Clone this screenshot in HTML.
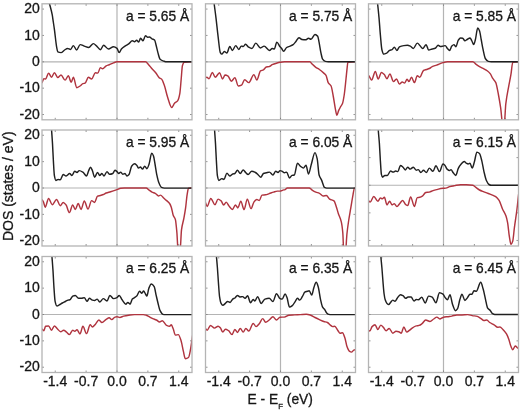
<!DOCTYPE html><html><head><meta charset="utf-8"><style>html,body{margin:0;padding:0;background:#fff;overflow:hidden}svg{display:block}</style></head><body>
<svg width="520" height="411" viewBox="0 0 520 411" font-family="'Liberation Sans', Arial, Helvetica, sans-serif" fill="#161616" stroke="#161616" stroke-width="0.3">
<defs><clipPath id="c1"><rect x="42" y="3.8" width="150" height="116"/></clipPath><clipPath id="c2"><rect x="205.5" y="3.8" width="150" height="116"/></clipPath><clipPath id="c3"><rect x="368.5" y="3.8" width="150" height="116"/></clipPath><clipPath id="c4"><rect x="42" y="130" width="150" height="116"/></clipPath><clipPath id="c5"><rect x="205.5" y="130" width="150" height="116"/></clipPath><clipPath id="c6"><rect x="368.5" y="130" width="150" height="116"/></clipPath><clipPath id="c7"><rect x="42" y="256.5" width="150" height="116"/></clipPath><clipPath id="c8"><rect x="205.5" y="256.5" width="150" height="116"/></clipPath><clipPath id="c9"><rect x="368.5" y="256.5" width="150" height="116"/></clipPath></defs>
<path d="M42,61.8H192 M117,3.8V119.8" stroke="#b4b4b4" stroke-width="1.2" fill="none"/><path d="M55.24,119.8v-2M55.24,3.8v2M86.12,119.8v-2M86.12,3.8v2M117,119.8v-2M117,3.8v2M147.88,119.8v-2M147.88,3.8v2M178.76,119.8v-2M178.76,3.8v2M42,114.53h2M192,114.53h-2M42,88.16h2M192,88.16h-2M42,61.8h2M192,61.8h-2M42,35.44h2M192,35.44h-2M42,9.07h2M192,9.07h-2" stroke="#777" stroke-width="0.8" fill="none"/><g clip-path="url(#c1)" fill="none" stroke-width="1.45" stroke-linejoin="round"><path d="M41,83.5 C41.33,83.2 41.67,83.01 42,82.6 C42.6,81.87 43.2,78.7 43.8,78.7 C44.4,78.7 45,79 45.6,79 C46.6,79 47.6,73.1 48.6,73.1 C49.57,73.1 50.53,77.2 51.5,77.2 C52.47,77.2 53.43,72.8 54.4,72.8 C55.53,72.8 56.67,77.5 57.8,77.5 C58.87,77.5 59.93,75 61,75 C62.37,75 63.73,80.1 65.1,80.1 C66.17,80.1 67.23,75.8 68.3,75.8 C69.27,75.8 70.23,82.2 71.2,82.2 C71.93,82.2 72.67,77.2 73.4,77.2 C74.5,77.2 75.6,87.7 76.7,87.7 C77.8,87.7 78.9,86.7 80,86 C80.97,85.38 81.93,83.94 82.9,83.6 C83.63,83.35 84.37,83.38 85.1,83.1 C86.2,82.68 87.3,77.2 88.4,77.2 C89.47,77.2 90.53,79 91.6,79 C92.83,79 94.07,72.8 95.3,72.8 C96.13,72.8 96.97,73.1 97.8,73.1 C98.67,73.1 99.53,67.6 100.4,67.6 C101.13,67.6 101.87,68.8 102.6,68.8 C103.8,68.8 105,66.4 106.2,65.8 C107.2,65.3 108.2,65.09 109.2,64.7 C110.63,64.14 112.07,63.41 113.5,62.9 C114.67,62.48 115.83,61.8 117,61.8 C126.5,61.8 136,61.8 145.5,61.8 C146.47,61.8 147.43,63.41 148.4,64.4 C149.6,65.63 150.8,67.42 152,68.8 C153.23,70.22 154.47,71.3 155.7,72.8 C156.9,74.26 158.1,76.89 159.3,77.8 C160.03,78.35 160.77,78.37 161.5,79 C162.47,79.83 163.43,82.81 164.4,85.5 C165.4,88.28 166.4,93.47 167.4,96.5 C168.83,100.84 170.27,107.4 171.7,107.4 C172.7,107.4 173.7,104.09 174.7,103.1 C175.67,102.14 176.63,102.13 177.6,100.9 C178.33,99.97 179.07,97.44 179.8,93.6 C180.27,91.16 180.73,84 181.2,79 C181.6,74.71 182,67.22 182.4,65.8 C183,63.67 183.6,62.27 184.2,62.2 C187.13,61.87 190.07,61.93 193,61.8" stroke="#b0343f"/><path d="M47.3,-5 C47.97,-2.33 48.63,0.32 49.3,3 C50.27,6.88 51.23,9.66 52.2,14.7 C52.57,16.61 52.93,19.57 53.3,22 C53.67,24.43 54.03,26.67 54.4,29.3 C55.13,34.55 55.87,42.85 56.6,46.8 C57,48.95 57.4,51.71 57.8,51.9 C58.87,52.41 59.93,52.6 61,52.6 C62.2,52.6 63.4,50.72 64.6,50 C65.57,49.42 66.53,48.5 67.5,48.5 C68.5,48.5 69.5,49.4 70.5,49.4 C71.47,49.4 72.43,45.6 73.4,45.6 C74.47,45.6 75.53,50 76.6,50 C77.8,50 79,44.6 80.2,44.6 C81.57,44.6 82.93,45.63 84.3,46.1 C85.77,46.6 87.23,47.5 88.7,47.5 C90.27,47.5 91.83,43.6 93.4,43.6 C94.5,43.6 95.6,45.17 96.7,46.1 C97.93,47.15 99.17,49.7 100.4,49.7 C101.47,49.7 102.53,45.3 103.6,45.3 C105.2,45.3 106.8,49 108.4,49 C110.1,49 111.8,46.8 113.5,46.8 C114.67,46.8 115.83,47.44 117,48.3 C117.73,48.84 118.47,52.6 119.2,52.6 C119.93,52.6 120.67,49.81 121.4,49 C122.6,47.67 123.8,46.92 125,46.1 C126.23,45.26 127.47,44.78 128.7,43.9 C129.9,43.04 131.1,40.7 132.3,40.7 C133.03,40.7 133.77,41.7 134.5,41.7 C135.23,41.7 135.97,40.2 136.7,40.2 C137.33,40.2 137.97,42.1 138.6,42.1 C139.27,42.1 139.93,38.3 140.6,38.3 C141.4,38.3 142.2,40.7 143,40.7 C143.83,40.7 144.67,35.8 145.5,35.8 C146.23,35.8 146.97,37.3 147.7,37.3 C148.27,37.3 148.83,36.9 149.4,36.9 C150.27,36.9 151.13,38.27 152,38.8 C152.9,39.35 153.8,39.31 154.7,40.2 C155.17,40.66 155.63,43.51 156.1,45.3 C156.7,47.6 157.3,50.52 157.9,52.6 C158.63,55.14 159.37,58.5 160.1,59.2 C161.3,60.34 162.5,60.71 163.7,61.1 C164.67,61.42 165.63,61.8 166.6,61.8 C175.4,61.8 184.2,61.8 193,61.8" stroke="#202020"/></g><rect x="42" y="3.8" width="150" height="116" stroke="#b4b4b4" stroke-width="1.3" fill="none"/><text transform="translate(189.2,20.7) scale(1,1.1)" font-size="13.8" text-anchor="end">a = 5.65 Å</text>
<text transform="translate(39.8,13.27) scale(1,1.05)" font-size="14" text-anchor="end">20</text>
<text transform="translate(39.8,39.64) scale(1,1.05)" font-size="14" text-anchor="end">10</text>
<text transform="translate(39.8,66) scale(1,1.05)" font-size="14" text-anchor="end">0</text>
<text transform="translate(39.8,92.36) scale(1,1.05)" font-size="14" text-anchor="end">-10</text>
<text transform="translate(39.8,118.73) scale(1,1.05)" font-size="14" text-anchor="end">-20</text>
<path d="M205.5,61.8H355.5 M280.5,3.8V119.8" stroke="#b4b4b4" stroke-width="1.2" fill="none"/><path d="M218.74,119.8v-2M218.74,3.8v2M249.62,119.8v-2M249.62,3.8v2M280.5,119.8v-2M280.5,3.8v2M311.38,119.8v-2M311.38,3.8v2M342.26,119.8v-2M342.26,3.8v2M205.5,114.53h2M355.5,114.53h-2M205.5,88.16h2M355.5,88.16h-2M205.5,61.8h2M355.5,61.8h-2M205.5,35.44h2M355.5,35.44h-2M205.5,9.07h2M355.5,9.07h-2" stroke="#777" stroke-width="0.8" fill="none"/><g clip-path="url(#c2)" fill="none" stroke-width="1.45" stroke-linejoin="round"><path d="M204,78.5 C204.33,78.4 204.67,78.33 205,78.2 C205.6,77.97 206.2,77.2 206.8,77.2 C207.57,77.2 208.33,78.7 209.1,78.7 C210.17,78.7 211.23,72.4 212.3,72.4 C213.27,72.4 214.23,77.2 215.2,77.2 C216.67,77.2 218.13,72.8 219.6,72.8 C220.57,72.8 221.53,79 222.5,79 C223.37,79 224.23,74.9 225.1,74.9 C226.1,74.9 227.1,75.46 228.1,76.1 C229.17,76.78 230.23,81.2 231.3,81.2 C232.5,81.2 233.7,77.8 234.9,77.8 C236.03,77.8 237.17,86 238.3,86 C239.37,86 240.43,85.61 241.5,85.1 C242.57,84.59 243.63,79.7 244.7,79.7 C246.07,79.7 247.43,82.6 248.8,82.6 C250.5,82.6 252.2,74.6 253.9,74.6 C254.87,74.6 255.83,80.1 256.8,80.1 C258.03,80.1 259.27,71.62 260.5,70.9 C261.47,70.33 262.43,70.4 263.4,69.9 C264.37,69.4 265.33,67.23 266.3,67 C267.27,66.77 268.23,66.82 269.2,66.6 C270.2,66.37 271.2,65.16 272.2,64.7 C273.63,64.04 275.07,63.62 276.5,63.2 C277.67,62.86 278.83,62.49 280,62.3 C281.47,62.07 282.93,61.8 284.4,61.8 C292.9,61.8 301.4,61.8 309.9,61.8 C310.63,61.8 311.37,63.4 312.1,64.1 C313.33,65.28 314.57,66.42 315.8,67.3 C317,68.16 318.2,68.66 319.4,69.5 C320.87,70.52 322.33,71.77 323.8,73.1 C324.53,73.77 325.27,74.17 326,75.3 C326.73,76.43 327.47,81.3 328.2,82.6 C329.17,84.31 330.13,84.13 331.1,86 C331.83,87.42 332.57,92.61 333.3,96.5 C334.03,100.39 334.77,106.14 335.5,109.6 C335.97,111.8 336.43,115.2 336.9,115.2 C337.5,115.2 338.1,111.75 338.7,110.4 C339.33,108.97 339.97,107.84 340.6,106.7 C341.23,105.56 341.87,105.11 342.5,103.5 C343.07,102.06 343.63,98.62 344.2,95 C344.8,91.17 345.4,84.6 346,79 C346.4,75.27 346.8,70.59 347.2,67.3 C347.43,65.38 347.67,62.23 347.9,62.2 C350.93,61.83 353.97,61.93 357,61.8" stroke="#b0343f"/><path d="M213,-5 C213.35,-2.33 213.7,0.32 214.05,3 C214.68,7.84 215.32,12.4 215.95,17.6 C216.67,23.48 217.38,30.88 218.1,36.6 C218.83,42.45 219.57,51.37 220.3,52.6 C220.8,53.44 221.3,54.1 221.8,54.1 C222.63,54.1 223.47,51.5 224.3,51.5 C225.17,51.5 226.03,52.9 226.9,52.9 C227.87,52.9 228.83,46.5 229.8,46.5 C230.67,46.5 231.53,50.4 232.4,50.4 C233.5,50.4 234.6,45.6 235.7,45.6 C236.77,45.6 237.83,49.4 238.9,49.4 C239.67,49.4 240.43,46.1 241.2,46.1 C241.87,46.1 242.53,46.5 243.2,46.5 C244,46.5 244.8,44.2 245.6,44.2 C246.57,44.2 247.53,46.54 248.5,47.1 C249.67,47.78 250.83,48.5 252,48.5 C253.27,48.5 254.53,43.1 255.8,43.1 C257.37,43.1 258.93,48 260.5,48 C261.7,48 262.9,46.1 264.1,46.1 C265.9,46.1 267.7,50.4 269.5,50.4 C270.4,50.4 271.3,48.5 272.2,48.5 C272.9,48.5 273.6,49 274.3,49 C275.13,49 275.97,42.1 276.8,42.1 C277.87,42.1 278.93,45.56 280,46.8 C280.5,47.38 281,47.73 281.5,48.3 C282.2,49.1 282.9,51.2 283.6,51.2 C284.6,51.2 285.6,48.1 286.6,47.5 C287.8,46.78 289,46.64 290.2,46.1 C291.17,45.67 292.13,45.29 293.1,44.6 C294.1,43.89 295.1,42.37 296.1,41.2 C297.07,40.07 298.03,37.7 299,37.7 C299.97,37.7 300.93,39.35 301.9,39.5 C303.1,39.68 304.3,39.8 305.5,39.8 C306.5,39.8 307.5,38.3 308.5,38.3 C309.33,38.3 310.17,39.2 311,39.2 C312.33,39.2 313.67,34.4 315,34.4 C315.9,34.4 316.8,35.12 317.7,36.3 C318.17,36.91 318.63,40.11 319.1,42.4 C319.7,45.34 320.3,49.84 320.9,52.6 C321.47,55.21 322.03,58.4 322.6,59.2 C323.5,60.48 324.4,61.19 325.3,61.4 C326.27,61.63 327.23,61.8 328.2,61.8 C337.8,61.8 347.4,61.8 357,61.8" stroke="#202020"/></g><rect x="205.5" y="3.8" width="150" height="116" stroke="#b4b4b4" stroke-width="1.3" fill="none"/><text transform="translate(352.3,20.7) scale(1,1.1)" font-size="13.8" text-anchor="end">a = 5.75 Å</text>
<path d="M368.5,61.8H518.5 M443.5,3.8V119.8" stroke="#b4b4b4" stroke-width="1.2" fill="none"/><path d="M381.74,119.8v-2M381.74,3.8v2M412.62,119.8v-2M412.62,3.8v2M443.5,119.8v-2M443.5,3.8v2M474.38,119.8v-2M474.38,3.8v2M505.26,119.8v-2M505.26,3.8v2M368.5,114.53h2M518.5,114.53h-2M368.5,88.16h2M518.5,88.16h-2M368.5,61.8h2M518.5,61.8h-2M368.5,35.44h2M518.5,35.44h-2M368.5,9.07h2M518.5,9.07h-2" stroke="#777" stroke-width="0.8" fill="none"/><g clip-path="url(#c3)" fill="none" stroke-width="1.45" stroke-linejoin="round"><path d="M367,73.5 C367.33,73.87 367.67,74.18 368,74.6 C368.5,75.22 369,76.04 369.5,76.8 C370.2,77.86 370.9,80.1 371.6,80.1 C372.83,80.1 374.07,71.4 375.3,71.4 C376.27,71.4 377.23,79 378.2,79 C379.27,79 380.33,72.4 381.4,72.4 C382.3,72.4 383.2,73.44 384.1,74.3 C385.07,75.23 386.03,78.7 387,78.7 C387.97,78.7 388.93,73.9 389.9,73.9 C391.1,73.9 392.3,81.6 393.5,81.6 C394.5,81.6 395.5,79 396.5,79 C397.47,79 398.43,84.1 399.4,84.1 C400.37,84.1 401.33,81.9 402.3,81.9 C403.03,81.9 403.77,83.1 404.5,83.1 C405.37,83.1 406.23,79.3 407.1,79.3 C407.7,79.3 408.3,81.6 408.9,81.6 C409.77,81.6 410.63,77.2 411.5,77.2 C412.47,77.2 413.43,82.6 414.4,82.6 C415.37,82.6 416.33,75.8 417.3,75.8 C418.13,75.8 418.97,77.2 419.8,77.2 C421.03,77.2 422.27,71.2 423.5,70.5 C424.47,69.95 425.43,69.83 426.4,69.5 C427.37,69.17 428.33,68.94 429.3,68.5 C430.27,68.06 431.23,67.04 432.2,66.6 C433.67,65.93 435.13,65.63 436.6,65.1 C438.73,64.33 440.87,63.12 443,62.6 C444.47,62.24 445.93,61.8 447.4,61.8 C455.9,61.8 464.4,61.8 472.9,61.8 C473.87,61.8 474.83,63.39 475.8,64.1 C477.03,65 478.27,65.89 479.5,66.6 C480.97,67.45 482.43,67.99 483.9,68.8 C485.1,69.46 486.3,70.08 487.5,71 C488.47,71.74 489.43,72.6 490.4,73.9 C491.13,74.88 491.87,77 492.6,78.2 C493.67,79.94 494.73,80.31 495.8,82.6 C496.7,84.53 497.6,90.3 498.5,95 C499.23,98.83 499.97,103.17 500.7,108.2 C501.4,113.01 502.1,125 502.8,125 C503.27,125 503.73,125 504.2,125 C504.73,125 505.27,108.39 505.8,103.8 C506.77,95.48 507.73,91.72 508.7,86.3 C509.43,82.19 510.17,79 510.9,74.7 C511.53,70.98 512.17,62.29 512.8,62.2 C515.2,61.87 517.6,61.93 520,61.8" stroke="#b0343f"/><path d="M376.5,-5 C376.83,-2.33 377.17,0.09 377.5,3 C378,7.36 378.5,12.12 379,17.6 C379.47,22.71 379.93,29.99 380.4,35.1 C380.9,40.58 381.4,47.78 381.9,49.7 C382.53,52.13 383.17,54.1 383.8,54.1 C384.6,54.1 385.4,53.74 386.2,53.4 C387.33,52.92 388.47,50.87 389.6,50.4 C390.43,50.05 391.27,50.08 392.1,49.7 C392.83,49.36 393.57,47.1 394.3,47.1 C395.17,47.1 396.03,50.4 396.9,50.4 C397.73,50.4 398.57,47.21 399.4,46.8 C400.87,46.08 402.33,45.78 403.8,45.6 C405,45.45 406.2,45.3 407.4,45.3 C408.37,45.3 409.33,45.7 410.3,46.1 C411.3,46.51 412.3,48.5 413.3,48.5 C414.63,48.5 415.97,43.1 417.3,43.1 C418.3,43.1 419.3,45.1 420.3,46.1 C421.1,46.9 421.9,48.5 422.7,48.5 C423.83,48.5 424.97,44.6 426.1,44.6 C426.93,44.6 427.77,50 428.6,50 C429.8,50 431,49.3 432.2,49 C433.2,48.75 434.2,48.68 435.2,48.3 C436.17,47.93 437.13,45.3 438.1,45.3 C438.83,45.3 439.57,46.5 440.3,46.5 C441.2,46.5 442.1,46.26 443,46.1 C443.73,45.97 444.47,45.6 445.2,45.6 C445.93,45.6 446.67,47.73 447.4,48.5 C448.13,49.27 448.87,50.4 449.6,50.4 C450.33,50.4 451.07,46.86 451.8,46.1 C452.5,45.37 453.2,44.6 453.9,44.6 C454.53,44.6 455.17,46.8 455.8,46.8 C456.63,46.8 457.47,41.4 458.3,40.2 C459.03,39.15 459.77,38 460.5,38 C461.23,38 461.97,38.12 462.7,38.3 C463.43,38.48 464.17,40.7 464.9,40.7 C465.63,40.7 466.37,39.89 467.1,39.5 C468.07,38.99 469.03,38 470,38 C470.63,38 471.27,39.88 471.9,41 C472.5,42.06 473.1,44.6 473.7,44.6 C474.27,44.6 474.83,41.59 475.4,39.5 C476.17,36.67 476.93,28.1 477.7,28.1 C478.3,28.1 478.9,29.34 479.5,30.7 C480.07,31.99 480.63,36.51 481.2,39.5 C481.83,42.84 482.47,46.79 483.1,49.7 C483.83,53.07 484.57,57.32 485.3,58.5 C486.3,60.11 487.3,61.16 488.3,61.4 C489.27,61.63 490.23,61.8 491.2,61.8 C500.8,61.8 510.4,61.8 520,61.8" stroke="#202020"/></g><rect x="368.5" y="3.8" width="150" height="116" stroke="#b4b4b4" stroke-width="1.3" fill="none"/><text transform="translate(516,20.7) scale(1,1.1)" font-size="13.8" text-anchor="end">a = 5.85 Å</text>
<path d="M42,188H192 M117,130V246" stroke="#b4b4b4" stroke-width="1.2" fill="none"/><path d="M55.24,246v-2M55.24,130v2M86.12,246v-2M86.12,130v2M117,246v-2M117,130v2M147.88,246v-2M147.88,130v2M178.76,246v-2M178.76,130v2M42,240.73h2M192,240.73h-2M42,214.36h2M192,214.36h-2M42,188h2M192,188h-2M42,161.64h2M192,161.64h-2M42,135.27h2M192,135.27h-2" stroke="#777" stroke-width="0.8" fill="none"/><g clip-path="url(#c4)" fill="none" stroke-width="1.45" stroke-linejoin="round"><path d="M41,199.5 C41.33,199.63 41.67,199.7 42,199.9 C42.5,200.2 43,201.12 43.5,202.1 C44.07,203.21 44.63,207.2 45.2,207.2 C46.33,207.2 47.47,198.4 48.6,198.4 C49.8,198.4 51,204.7 52.2,204.7 C53.67,204.7 55.13,199.4 56.6,199.4 C57.8,199.4 59,205.7 60.2,205.7 C61.2,205.7 62.2,202.4 63.2,202.4 C64.17,202.4 65.13,203.76 66.1,205 C67.2,206.41 68.3,212.6 69.4,212.6 C70.5,212.6 71.6,205 72.7,205 C73.57,205 74.43,209.4 75.3,209.4 C76.27,209.4 77.23,203.5 78.2,203.5 C79.17,203.5 80.13,209.4 81.1,209.4 C82.17,209.4 83.23,200.9 84.3,200.9 C85.53,200.9 86.77,209.1 88,209.1 C89.2,209.1 90.4,200.6 91.6,200.6 C92.6,200.6 93.6,202.4 94.6,202.4 C95.57,202.4 96.53,196.62 97.5,196.2 C98.47,195.78 99.43,195.77 100.4,195.5 C101.37,195.23 102.33,194.9 103.3,194.5 C104.27,194.1 105.23,193.35 106.2,193 C107.67,192.46 109.13,192.24 110.6,191.8 C112.73,191.16 114.87,190.38 117,189.6 C118.2,189.16 119.4,188.36 120.6,188.2 C121.83,188.03 123.07,187.9 124.3,187.9 C131.6,187.9 138.9,187.9 146.2,187.9 C147.17,187.9 148.13,189.4 149.1,190.1 C150.07,190.8 151.03,191.63 152,192.1 C153.07,192.62 154.13,192.77 155.2,193.3 C156.33,193.87 157.47,195.9 158.6,195.9 C159.23,195.9 159.87,195.1 160.5,195.1 C161.47,195.1 162.43,196.83 163.4,197.7 C164.47,198.66 165.53,199.6 166.6,200.6 C167.6,201.54 168.6,202.11 169.6,203.5 C170.17,204.29 170.73,205.58 171.3,207.2 C171.93,209.01 172.57,213.47 173.2,215.2 C173.93,217.21 174.67,217.11 175.4,219.6 C175.9,221.29 176.4,227.17 176.9,232.7 C177.33,237.5 177.77,252 178.2,252 C178.8,252 179.4,252 180,252 C180.5,252 181,233.62 181.5,229.8 C182.3,223.7 183.1,222.43 183.9,218.1 C184.47,215.03 185.03,211.95 185.6,207.9 C186.1,204.33 186.6,197.85 187.1,194.8 C187.57,191.95 188.03,188.25 188.5,188.2 C190,188.04 191.5,188.07 193,188" stroke="#b0343f"/><path d="M51,121 C51.17,123.67 51.33,126.44 51.5,129 C51.83,134.12 52.17,138.03 52.5,143.6 C52.8,148.62 53.1,156.08 53.4,161.1 C53.73,166.67 54.07,173.9 54.4,175.7 C54.9,178.4 55.4,180.4 55.9,180.4 C56.63,180.4 57.37,179.4 58.1,179.4 C58.8,179.4 59.5,179.8 60.2,179.8 C61.2,179.8 62.2,174.5 63.2,174.5 C64.17,174.5 65.13,176 66.1,176 C67.3,176 68.5,173.5 69.7,173.5 C70.43,173.5 71.17,175.4 71.9,175.4 C72.87,175.4 73.83,171.3 74.8,171.3 C75.53,171.3 76.27,172.5 77,172.5 C77.73,172.5 78.47,170.6 79.2,170.6 C80.43,170.6 81.67,171.37 82.9,172.1 C84.1,172.81 85.3,176 86.5,176 C87.23,176 87.97,172.16 88.7,170.6 C89.3,169.32 89.9,167.2 90.5,167.2 C91.13,167.2 91.77,169.19 92.4,170.6 C93.13,172.23 93.87,177.2 94.6,177.2 C95.57,177.2 96.53,172.5 97.5,172.5 C98.23,172.5 98.97,175.4 99.7,175.4 C100.43,175.4 101.17,173.5 101.9,173.5 C102.6,173.5 103.3,176 104,176 C105,176 106,171.6 107,171.6 C107.8,171.6 108.6,174.3 109.4,174.3 C110.53,174.3 111.67,173.99 112.8,173.5 C113.53,173.19 114.27,170.2 115,170.2 C115.67,170.2 116.33,171.04 117,171.6 C117.6,172.11 118.2,173.5 118.8,173.5 C119.4,173.5 120,172.1 120.6,172.1 C121.33,172.1 122.07,174.3 122.8,174.3 C123.53,174.3 124.27,173.5 125,173.5 C125.63,173.5 126.27,176 126.9,176 C127.6,176 128.3,175.3 129,174.5 C129.87,173.51 130.73,167.39 131.6,166.2 C132.57,164.87 133.53,163.7 134.5,163.7 C135.23,163.7 135.97,164.5 136.7,165.2 C137.33,165.8 137.97,168.1 138.6,168.1 C139.2,168.1 139.8,167 140.4,167 C141.1,167 141.8,169.1 142.5,169.1 C143.23,169.1 143.97,166.2 144.7,166.2 C145.43,166.2 146.17,168.7 146.9,168.7 C147.63,168.7 148.37,166.06 149.1,164 C149.97,161.57 150.83,153.1 151.7,153.1 C152.3,153.1 152.9,154.49 153.5,156 C154,157.26 154.5,161.17 155,164 C155.57,167.21 156.13,171.63 156.7,174.3 C157.47,177.91 158.23,181.15 159,183 C159.83,185.01 160.67,187.04 161.5,187.4 C162.47,187.82 163.43,188.1 164.4,188.1 C173.93,188.1 183.47,188.1 193,188.1" stroke="#202020"/></g><rect x="42" y="130" width="150" height="116" stroke="#b4b4b4" stroke-width="1.3" fill="none"/><text transform="translate(189.2,146.9) scale(1,1.1)" font-size="13.8" text-anchor="end">a = 5.95 Å</text>
<text transform="translate(39.8,139.47) scale(1,1.05)" font-size="14" text-anchor="end">20</text>
<text transform="translate(39.8,165.84) scale(1,1.05)" font-size="14" text-anchor="end">10</text>
<text transform="translate(39.8,192.2) scale(1,1.05)" font-size="14" text-anchor="end">0</text>
<text transform="translate(39.8,218.56) scale(1,1.05)" font-size="14" text-anchor="end">-10</text>
<text transform="translate(39.8,244.93) scale(1,1.05)" font-size="14" text-anchor="end">-20</text>
<path d="M205.5,188H355.5 M280.5,130V246" stroke="#b4b4b4" stroke-width="1.2" fill="none"/><path d="M218.74,246v-2M218.74,130v2M249.62,246v-2M249.62,130v2M280.5,246v-2M280.5,130v2M311.38,246v-2M311.38,130v2M342.26,246v-2M342.26,130v2M205.5,240.73h2M355.5,240.73h-2M205.5,214.36h2M355.5,214.36h-2M205.5,188h2M355.5,188h-2M205.5,161.64h2M355.5,161.64h-2M205.5,135.27h2M355.5,135.27h-2" stroke="#777" stroke-width="0.8" fill="none"/><g clip-path="url(#c5)" fill="none" stroke-width="1.45" stroke-linejoin="round"><path d="M204,200 C204.33,200.43 204.67,200.76 205,201.3 C205.73,202.48 206.47,206.4 207.2,206.4 C208.4,206.4 209.6,198.4 210.8,198.4 C212.17,198.4 213.53,204.7 214.9,204.7 C215.97,204.7 217.03,199.1 218.1,199.1 C219.1,199.1 220.1,200.02 221.1,200.9 C221.97,201.66 222.83,205 223.7,205 C224.53,205 225.37,202.1 226.2,202.1 C227.17,202.1 228.13,204.98 229.1,206.1 C230.2,207.38 231.3,209.4 232.4,209.4 C233.4,209.4 234.4,205 235.4,205 C236.2,205 237,207.9 237.8,207.9 C238.8,207.9 239.8,201.3 240.8,201.3 C241.9,201.3 243,209.6 244.1,209.6 C245.17,209.6 246.23,199.1 247.3,199.1 C248.53,199.1 249.77,208.6 251,208.6 C251.97,208.6 252.93,203.37 253.9,202.1 C254.87,200.83 255.83,199.4 256.8,199.4 C257.63,199.4 258.47,200.6 259.3,200.6 C260.17,200.6 261.03,195.24 261.9,195.1 C263.13,194.9 264.37,194.96 265.6,194.8 C266.8,194.64 268,194 269.2,193.6 C270.67,193.11 272.13,192.54 273.6,192.1 C274.83,191.73 276.07,191.1 277.3,191.1 C278.2,191.1 279.1,191.1 280,191.1 C280.97,191.1 281.93,190.36 282.9,190.1 C283.63,189.9 284.37,189.85 285.1,189.6 C285.83,189.35 286.57,188.01 287.3,188 C294.6,187.91 301.9,187.9 309.2,187.9 C310.17,187.9 311.13,189.49 312.1,190.1 C313.33,190.88 314.57,191.59 315.8,192.1 C317,192.59 318.2,192.76 319.4,193.3 C320.63,193.86 321.87,195.9 323.1,195.9 C324.2,195.9 325.3,195.5 326.4,195.5 C327.47,195.5 328.53,198.44 329.6,199.1 C331.07,200 332.53,199.78 334,200.9 C334.73,201.46 335.47,204.31 336.2,206.4 C336.93,208.49 337.67,211.47 338.4,213.7 C339.37,216.64 340.33,217.71 341.3,221.8 C341.8,223.92 342.3,227.26 342.8,232.7 C343.13,236.33 343.47,252 343.8,252 C344.37,252 344.93,252 345.5,252 C345.97,252 346.43,238.73 346.9,234.2 C347.47,228.69 348.03,224.84 348.6,221 C349.33,216.03 350.07,212.27 350.8,207.9 C351.53,203.53 352.27,198.48 353,194.8 C353.5,192.29 354,188.29 354.5,188.2 C355.33,188.06 356.17,188.07 357,188" stroke="#b0343f"/><path d="M214,121 C214.17,123.67 214.33,126.44 214.5,129 C214.83,134.12 215.17,138.03 215.5,143.6 C215.8,148.62 216.1,156.08 216.4,161.1 C216.73,166.67 217.07,173.9 217.4,175.7 C217.9,178.4 218.4,180.4 218.9,180.4 C219.87,180.4 220.83,178.6 221.8,178.6 C222.53,178.6 223.27,179.4 224,179.4 C224.97,179.4 225.93,173.1 226.9,173.1 C227.87,173.1 228.83,176 229.8,176 C230.77,176 231.73,174.32 232.7,174 C233.43,173.75 234.17,173.78 234.9,173.5 C235.73,173.18 236.57,170.2 237.4,170.2 C238.37,170.2 239.33,173.5 240.3,173.5 C241.27,173.5 242.23,169.9 243.2,169.9 C244.1,169.9 245,172 245.9,172.8 C246.63,173.46 247.37,174.5 248.1,174.5 C249.3,174.5 250.5,171.3 251.7,171.3 C252.93,171.3 254.17,171.91 255.4,172.5 C256.37,172.96 257.33,174.16 258.3,175 C259.13,175.73 259.97,177.2 260.8,177.2 C261.67,177.2 262.53,173.86 263.4,173.5 C264.37,173.1 265.33,173.02 266.3,172.8 C267.37,172.55 268.43,172.1 269.5,172.1 C270.63,172.1 271.77,175 272.9,175 C273.87,175 274.83,171.3 275.8,171.3 C276.53,171.3 277.27,172.5 278,172.5 C278.67,172.5 279.33,170.6 280,170.6 C280.73,170.6 281.47,170.98 282.2,171.3 C282.93,171.62 283.67,172.8 284.4,172.8 C285.13,172.8 285.87,172.1 286.6,172.1 C287.57,172.1 288.53,177.9 289.5,177.9 C290.33,177.9 291.17,175.64 292,175.4 C292.77,175.18 293.53,175.24 294.3,175 C295.37,174.66 296.43,163.3 297.5,163.3 C298.47,163.3 299.43,165.45 300.4,166.2 C301.4,166.98 302.4,168.1 303.4,168.1 C304.27,168.1 305.13,165.2 306,165.2 C306.83,165.2 307.67,174 308.5,174 C309.47,174 310.43,167.2 311.4,164 C312.6,160.03 313.8,152.6 315,152.6 C315.73,152.6 316.47,155.72 317.2,158.9 C317.83,161.64 318.47,172.86 319.1,175 C319.93,177.82 320.77,178.23 321.6,180.1 C322.57,182.27 323.53,186.87 324.5,187.4 C325.23,187.8 325.97,188.1 326.7,188.1 C336.8,188.1 346.9,188.1 357,188.1" stroke="#202020"/></g><rect x="205.5" y="130" width="150" height="116" stroke="#b4b4b4" stroke-width="1.3" fill="none"/><text transform="translate(352.3,146.9) scale(1,1.1)" font-size="13.8" text-anchor="end">a = 6.05 Å</text>
<path d="M368.5,185.24H518.5 M443.5,130V246" stroke="#b4b4b4" stroke-width="1.2" fill="none"/><path d="M381.74,246v-2M381.74,130v2M412.62,246v-2M412.62,130v2M443.5,246v-2M443.5,130v2M474.38,246v-2M474.38,130v2M505.26,246v-2M505.26,130v2M368.5,240.48h2M518.5,240.48h-2M368.5,212.86h2M518.5,212.86h-2M368.5,185.24h2M518.5,185.24h-2M368.5,157.62h2M518.5,157.62h-2M368.5,130h2M518.5,130h-2" stroke="#777" stroke-width="0.8" fill="none"/><g clip-path="url(#c6)" fill="none" stroke-width="1.45" stroke-linejoin="round"><path d="M367,199.5 C367.33,199.73 367.67,199.95 368,200.2 C368.73,200.75 369.47,202 370.2,202 C371.4,202 372.6,196.4 373.8,196.4 C375.17,196.4 376.53,201.2 377.9,201.2 C378.73,201.2 379.57,197.9 380.4,197.9 C381.03,197.9 381.67,198.8 382.3,198.8 C383,198.8 383.7,197.3 384.4,197.3 C385.27,197.3 386.13,204.9 387,204.9 C387.87,204.9 388.73,201.2 389.6,201.2 C390.43,201.2 391.27,204.9 392.1,204.9 C392.83,204.9 393.57,203.7 394.3,203.7 C395.17,203.7 396.03,206.6 396.9,206.6 C397.87,206.6 398.83,204.41 399.8,203.4 C400.77,202.39 401.73,200.5 402.7,200.5 C403.7,200.5 404.7,203.89 405.7,204.6 C406.37,205.07 407.03,205.6 407.7,205.6 C408.67,205.6 409.63,196.9 410.6,196.9 C411.87,196.9 413.13,206.4 414.4,206.4 C415.37,206.4 416.33,197.82 417.3,197.6 C418.13,197.41 418.97,197.46 419.8,197.3 C420.77,197.11 421.73,196.48 422.7,195.8 C423.7,195.1 424.7,192.71 425.7,192.5 C426.9,192.25 428.1,192.31 429.3,192.1 C430.53,191.89 431.77,191.01 433,190.6 C434.2,190.2 435.4,189.89 436.6,189.6 C438.73,189.09 440.87,188.51 443,188.3 C443.97,188.21 444.93,188.21 445.9,188.1 C447.13,187.96 448.37,186.93 449.6,186.6 C451.3,186.14 453,185.88 454.7,185.6 C456.63,185.29 458.57,184.8 460.5,184.8 C462.47,184.8 464.43,184.8 466.4,184.8 C468.57,184.8 470.73,184.92 472.9,185.2 C473.87,185.32 474.83,186.69 475.8,187.4 C477.03,188.3 478.27,189.36 479.5,190 C480.97,190.76 482.43,191.22 483.9,191.8 C485.37,192.38 486.83,192.94 488.3,193.5 C489.9,194.11 491.5,194.58 493.1,195.3 C493.97,195.69 494.83,196.08 495.7,196.7 C496.83,197.5 497.97,198.68 499.1,200.4 C500.23,202.12 501.37,206.47 502.5,209 C503.63,211.53 504.77,212.66 505.9,215.8 C506.47,217.37 507.03,219.58 507.6,222.6 C508.17,225.62 508.73,232.79 509.3,236.2 C509.87,239.61 510.43,244.4 511,244.4 C511.57,244.4 512.13,242.98 512.7,241.3 C513.27,239.62 513.83,232.01 514.4,227.7 C515.27,221.11 516.13,216.01 517,209 C517.57,204.42 518.13,197.9 518.7,193.6 C519.13,190.31 519.57,187.87 520,185" stroke="#b0343f"/><path d="M377.8,121 C377.93,123.67 378.07,126.9 378.2,129 C378.6,135.31 379,137.83 379.4,143.6 C379.73,148.41 380.07,156.08 380.4,161.1 C380.73,166.12 381.07,172.91 381.4,174.3 C381.8,175.97 382.2,177.2 382.6,177.2 C383.33,177.2 384.07,175.4 384.8,175.4 C385.63,175.4 386.47,175.4 387.3,175.4 C388.4,175.4 389.5,171 390.6,171 C391.43,171 392.27,172.1 393.1,172.1 C393.97,172.1 394.83,171 395.7,171 C396.43,171 397.17,171.6 397.9,171.6 C398.73,171.6 399.57,165.5 400.4,165.5 C401.27,165.5 402.13,166.45 403,167.2 C403.73,167.83 404.47,169.9 405.2,169.9 C406.03,169.9 406.87,167.2 407.7,167.2 C408.57,167.2 409.43,169.1 410.3,169.1 C411.3,169.1 412.3,167.2 413.3,167.2 C414.27,167.2 415.23,170.2 416.2,170.2 C416.93,170.2 417.67,169.6 418.4,169.6 C419.2,169.6 420,172.5 420.8,172.5 C421.7,172.5 422.6,170.2 423.5,170.2 C424.47,170.2 425.43,172.5 426.4,172.5 C427.37,172.5 428.33,168.1 429.3,168.1 C430.53,168.1 431.77,171.3 433,171.3 C433.97,171.3 434.93,165.8 435.9,165.8 C437.1,165.8 438.3,171.6 439.5,171.6 C440.67,171.6 441.83,164 443,164 C443.6,164 444.2,164.64 444.8,165.2 C445.57,165.92 446.33,168.42 447.1,169.1 C447.93,169.84 448.77,170.6 449.6,170.6 C450.07,170.6 450.53,169.6 451,169.6 C451.73,169.6 452.47,171.93 453.2,172.8 C454.07,173.83 454.93,175.4 455.8,175.4 C456.63,175.4 457.47,170.05 458.3,168.4 C459.27,166.48 460.23,165.07 461.2,164 C462.2,162.9 463.2,161.4 464.2,161.4 C464.93,161.4 465.67,162.9 466.4,163.3 C466.97,163.61 467.53,164 468.1,164 C468.73,164 469.37,163.3 470,163.3 C470.73,163.3 471.47,168.1 472.2,168.1 C472.93,168.1 473.67,164.21 474.4,161.8 C475.23,159.06 476.07,152.1 476.9,152.1 C477.77,152.1 478.63,152.69 479.5,153.5 C480.23,154.19 480.97,157.58 481.7,160.4 C482.43,163.22 483.17,168.2 483.9,171.3 C484.77,174.96 485.63,178.98 486.5,180.8 C487.33,182.55 488.17,184.02 489,184.5 C489.73,184.92 490.47,185.3 491.2,185.3 C500.8,185.3 510.4,185.3 520,185.3" stroke="#202020"/></g><rect x="368.5" y="130" width="150" height="116" stroke="#b4b4b4" stroke-width="1.3" fill="none"/><text transform="translate(516,146.9) scale(1,1.1)" font-size="13.8" text-anchor="end">a = 6.15 Å</text>
<path d="M42,314.5H192 M117,256.5V372.5" stroke="#b4b4b4" stroke-width="1.2" fill="none"/><path d="M55.24,372.5v-2M55.24,256.5v2M86.12,372.5v-2M86.12,256.5v2M117,372.5v-2M117,256.5v2M147.88,372.5v-2M147.88,256.5v2M178.76,372.5v-2M178.76,256.5v2M42,367.23h2M192,367.23h-2M42,340.86h2M192,340.86h-2M42,314.5h2M192,314.5h-2M42,288.14h2M192,288.14h-2M42,261.77h2M192,261.77h-2" stroke="#777" stroke-width="0.8" fill="none"/><g clip-path="url(#c7)" fill="none" stroke-width="1.45" stroke-linejoin="round"><path d="M41,328.5 C41.33,328.73 41.67,328.95 42,329.2 C42.6,329.65 43.2,330.7 43.8,330.7 C44.4,330.7 45,326.46 45.6,326.3 C46.6,326.03 47.6,325.9 48.6,325.9 C49.57,325.9 50.53,330.2 51.5,330.2 C52.47,330.2 53.43,325.9 54.4,325.9 C55.37,325.9 56.33,327.91 57.3,328.8 C58.43,329.85 59.57,331.7 60.7,331.7 C61.67,331.7 62.63,330.2 63.6,330.2 C64.57,330.2 65.53,331.38 66.5,332.1 C67.47,332.82 68.43,334.6 69.4,334.6 C70.5,334.6 71.6,330.2 72.7,330.2 C73.4,330.2 74.1,331.3 74.8,331.3 C75.53,331.3 76.27,329.8 77,329.8 C78,329.8 79,333.9 80,333.9 C80.97,333.9 81.93,326.3 82.9,326.3 C84.1,326.3 85.3,333.6 86.5,333.6 C87.73,333.6 88.97,324.8 90.2,324.8 C90.93,324.8 91.67,326.9 92.4,326.9 C93.37,326.9 94.33,325.37 95.3,324.4 C96.5,323.19 97.7,320 98.9,320 C99.9,320 100.9,322.5 101.9,322.5 C103.33,322.5 104.77,320.15 106.2,319.3 C107.2,318.71 108.2,317.8 109.2,317.8 C110.07,317.8 110.93,319.6 111.8,319.6 C112.87,319.6 113.93,317.42 115,317.1 C115.67,316.9 116.33,316.7 117,316.7 C117.97,316.7 118.93,317.5 119.9,317.5 C121.13,317.5 122.37,316.4 123.6,316.1 C125.3,315.68 127,315.42 128.7,315.2 C130.63,314.95 132.57,314.6 134.5,314.6 C137.43,314.6 140.37,314.6 143.3,314.6 C144.27,314.6 145.23,314.91 146.2,315.2 C147.17,315.49 148.13,316.2 149.1,316.7 C150.33,317.34 151.57,318.05 152.8,318.6 C154,319.13 155.2,319.43 156.4,320 C157.47,320.5 158.53,321.9 159.6,321.9 C160.5,321.9 161.4,320.8 162.3,320.8 C163.73,320.8 165.17,324.75 166.6,325.4 C167.6,325.85 168.6,326.3 169.6,326.3 C170.17,326.3 170.73,324.8 171.3,324.8 C171.93,324.8 172.57,327.27 173.2,328.8 C173.93,330.57 174.67,335.1 175.4,335.1 C176.37,335.1 177.33,334.6 178.3,334.6 C179.27,334.6 180.23,338.2 181.2,341.2 C181.93,343.47 182.67,348.33 183.4,351.4 C184.03,354.06 184.67,358.7 185.3,358.7 C186.37,358.7 187.43,358.27 188.5,357.5 C189.23,356.97 189.97,352.32 190.7,348.5 C191.13,346.24 191.57,342.62 192,339.7 C192.33,337.46 192.67,335.23 193,333" stroke="#b0343f"/><path d="M51.3,248 C51.5,250.67 51.7,253.34 51.9,256 C52.27,260.88 52.63,265.05 53,270.6 C53.33,275.64 53.67,283.34 54,288.1 C54.37,293.34 54.73,299.67 55.1,301.3 C55.7,303.97 56.3,305.9 56.9,305.9 C57.67,305.9 58.43,305.28 59.2,304.9 C60.27,304.37 61.33,303.58 62.4,303 C63.4,302.46 64.4,302.02 65.4,301.5 C66.27,301.05 67.13,300.3 68,300.1 C68.67,299.95 69.33,299.97 70,299.8 C70.9,299.57 71.8,296.5 72.7,296.1 C73.57,295.71 74.43,295.4 75.3,295.4 C76.37,295.4 77.43,298.3 78.5,298.3 C79.47,298.3 80.43,298.3 81.4,298.3 C82.37,298.3 83.33,297.6 84.3,297.6 C85.2,297.6 86.1,301.3 87,301.3 C87.8,301.3 88.6,298.3 89.4,298.3 C90.4,298.3 91.4,299.83 92.4,300.1 C93.13,300.3 93.87,300.5 94.6,300.5 C95.47,300.5 96.33,299.1 97.2,299.1 C98.03,299.1 98.87,302 99.7,302 C100.9,302 102.1,298.6 103.3,298.6 C104.53,298.6 105.77,301 107,301 C107.97,301 108.93,295.4 109.9,295.4 C111.1,295.4 112.3,298.6 113.5,298.6 C114.67,298.6 115.83,298.14 117,297.6 C117.73,297.26 118.47,295.4 119.2,295.4 C120.17,295.4 121.13,298.5 122.1,299.8 C123.33,301.45 124.57,304.2 125.8,304.2 C126.5,304.2 127.2,302.4 127.9,302.4 C128.63,302.4 129.37,304.2 130.1,304.2 C130.83,304.2 131.57,299.87 132.3,299.1 C133.03,298.33 133.77,298.1 134.5,297.6 C135.23,297.1 135.97,296.8 136.7,296.1 C137.67,295.18 138.63,291.3 139.6,291.3 C140.33,291.3 141.07,293.2 141.8,293.2 C142.4,293.2 143,291 143.6,291 C144.23,291 144.87,293.03 145.5,294 C145.97,294.72 146.43,296.1 146.9,296.1 C147.53,296.1 148.17,289.98 148.8,288.4 C149.63,286.32 150.47,284 151.3,284 C152.27,284 153.23,285.14 154.2,286.7 C154.83,287.72 155.47,292.36 156.1,295.1 C156.7,297.69 157.3,300.35 157.9,302.7 C158.63,305.57 159.37,309.28 160.1,310.7 C161.07,312.57 162.03,314.23 163,314.4 C163.67,314.52 164.33,314.6 165,314.6 C174.33,314.6 183.67,314.6 193,314.6" stroke="#202020"/></g><rect x="42" y="256.5" width="150" height="116" stroke="#b4b4b4" stroke-width="1.3" fill="none"/><text transform="translate(189.2,273.4) scale(1,1.1)" font-size="13.8" text-anchor="end">a = 6.25 Å</text>
<text transform="translate(39.8,265.97) scale(1,1.05)" font-size="14" text-anchor="end">20</text>
<text transform="translate(39.8,292.34) scale(1,1.05)" font-size="14" text-anchor="end">10</text>
<text transform="translate(39.8,318.7) scale(1,1.05)" font-size="14" text-anchor="end">0</text>
<text transform="translate(39.8,345.06) scale(1,1.05)" font-size="14" text-anchor="end">-10</text>
<text transform="translate(39.8,371.43) scale(1,1.05)" font-size="14" text-anchor="end">-20</text>
<text transform="translate(55.24,386) scale(1,1.05)" font-size="14" text-anchor="middle">-1.4</text>
<text transform="translate(86.12,386) scale(1,1.05)" font-size="14" text-anchor="middle">-0.7</text>
<text transform="translate(117,386) scale(1,1.05)" font-size="14" text-anchor="middle">0.0</text>
<text transform="translate(147.88,386) scale(1,1.05)" font-size="14" text-anchor="middle">0.7</text>
<text transform="translate(178.76,386) scale(1,1.05)" font-size="14" text-anchor="middle">1.4</text>
<path d="M205.5,314.5H355.5 M280.5,256.5V372.5" stroke="#b4b4b4" stroke-width="1.2" fill="none"/><path d="M218.74,372.5v-2M218.74,256.5v2M249.62,372.5v-2M249.62,256.5v2M280.5,372.5v-2M280.5,256.5v2M311.38,372.5v-2M311.38,256.5v2M342.26,372.5v-2M342.26,256.5v2M205.5,367.23h2M355.5,367.23h-2M205.5,340.86h2M355.5,340.86h-2M205.5,314.5h2M355.5,314.5h-2M205.5,288.14h2M355.5,288.14h-2M205.5,261.77h2M355.5,261.77h-2" stroke="#777" stroke-width="0.8" fill="none"/><g clip-path="url(#c8)" fill="none" stroke-width="1.45" stroke-linejoin="round"><path d="M204,327.5 C204.33,327.7 204.67,327.86 205,328.1 C205.73,328.63 206.47,330.2 207.2,330.2 C208.3,330.2 209.4,325.4 210.5,325.4 C211.83,325.4 213.17,328.1 214.5,328.1 C215.7,328.1 216.9,326.3 218.1,326.3 C218.83,326.3 219.57,327.09 220.3,327.8 C221.13,328.61 221.97,332.1 222.8,332.1 C223.67,332.1 224.53,329.2 225.4,329.2 C226.47,329.2 227.53,329.99 228.6,330.7 C229.73,331.45 230.87,334.6 232,334.6 C232.97,334.6 233.93,329.5 234.9,329.5 C235.73,329.5 236.57,332.4 237.4,332.4 C238.37,332.4 239.33,328.4 240.3,328.4 C241.27,328.4 242.23,332.1 243.2,332.1 C244.1,332.1 245,328.4 245.9,328.4 C246.87,328.4 247.83,331 248.8,331 C250.27,331 251.73,323.4 253.2,323.4 C254.17,323.4 255.13,326.6 256.1,326.6 C257.17,326.6 258.23,324.9 259.3,323.7 C260.43,322.42 261.57,318.6 262.7,318.6 C263.67,318.6 264.63,322.2 265.6,322.2 C266.8,322.2 268,320.87 269.2,320 C270.43,319.11 271.67,316.7 272.9,316.7 C274.1,316.7 275.3,320 276.5,320 C277.67,320 278.83,317.25 280,317.2 C281.47,317.13 282.93,317.16 284.4,317.1 C285.87,317.04 287.33,315.34 288.8,315.2 C290.73,315.01 292.67,315 294.6,314.9 C296.53,314.8 298.47,314.71 300.4,314.6 C302.37,314.48 304.33,314.2 306.3,314.2 C307.77,314.2 309.23,314.73 310.7,315.2 C312.13,315.66 313.57,316.78 315,317.5 C316.47,318.24 317.93,318.94 319.4,319.6 C320.87,320.27 322.33,321.01 323.8,321.5 C325,321.9 326.2,321.99 327.4,322.5 C328.4,322.93 329.4,324.34 330.4,325.1 C331.13,325.66 331.87,326.6 332.6,326.6 C333.3,326.6 334,326.3 334.7,326.3 C335.7,326.3 336.7,328.87 337.7,330.2 C338.43,331.18 339.17,333.2 339.9,333.2 C340.77,333.2 341.63,332.7 342.5,332.7 C343.33,332.7 344.17,335.83 345,338.3 C345.63,340.18 346.27,344.56 346.9,346.3 C347.7,348.5 348.5,350.51 349.3,351.1 C350.03,351.64 350.77,352.1 351.5,352.1 C352.23,352.1 352.97,350.58 353.7,350.2 C354.13,349.98 354.57,349.86 355,349.7 C355.67,349.45 356.33,349.23 357,349" stroke="#b0343f"/><path d="M215.8,248 C216,250.67 216.2,253.49 216.4,256 C216.73,260.18 217.07,263.37 217.4,267.7 C217.73,272.03 218.07,277.86 218.4,282.3 C218.8,287.62 219.2,294.3 219.6,296.9 C220.1,300.15 220.6,302.5 221.1,303.4 C221.67,304.42 222.23,305.3 222.8,305.3 C223.67,305.3 224.53,304.09 225.4,303.4 C226.13,302.82 226.87,301.5 227.6,301.5 C228.43,301.5 229.27,302.4 230.1,302.4 C230.97,302.4 231.83,299.71 232.7,299.1 C233.43,298.58 234.17,298.49 234.9,298 C235.73,297.44 236.57,295.4 237.4,295.4 C238.27,295.4 239.13,296.9 240,296.9 C240.9,296.9 241.8,296.6 242.7,296.6 C243.5,296.6 244.3,298.3 245.1,298.3 C245.93,298.3 246.77,295.7 247.6,295.7 C248.57,295.7 249.53,302.7 250.5,302.7 C251.4,302.7 252.3,299.5 253.2,299.5 C253.77,299.5 254.33,301 254.9,301 C255.8,301 256.7,296.6 257.6,296.6 C258.8,296.6 260,303.4 261.2,303.4 C262.43,303.4 263.67,299.5 264.9,299.1 C266.33,298.63 267.77,298.3 269.2,298.3 C270.43,298.3 271.67,301.5 272.9,301.5 C274.1,301.5 275.3,293.7 276.5,293.7 C277.67,293.7 278.83,298.17 280,298.6 C280.73,298.87 281.47,299.1 282.2,299.1 C283.17,299.1 284.13,294 285.1,294 C285.73,294 286.37,296.02 287,297.6 C287.83,299.68 288.67,307.1 289.5,307.1 C290.47,307.1 291.43,306.34 292.4,305.6 C293.37,304.86 294.33,302.67 295.3,301.3 C296.03,300.26 296.77,298.3 297.5,298.3 C298.23,298.3 298.97,300.1 299.7,300.1 C300.67,300.1 301.63,297.61 302.6,296.1 C303.33,294.96 304.07,292.63 304.8,292.2 C305.67,291.69 306.53,291.59 307.4,291.3 C308,291.1 308.6,290.7 309.2,290.7 C310.07,290.7 310.93,295.1 311.8,295.1 C312.5,295.1 313.2,289.34 313.9,287.4 C314.67,285.27 315.43,282.3 316.2,282.3 C316.87,282.3 317.53,284.64 318.2,286.7 C319,289.18 319.8,296.32 320.6,299.8 C321.27,302.7 321.93,305.93 322.6,307.1 C323.23,308.21 323.87,308.44 324.5,309.3 C325.23,310.29 325.97,312.19 326.7,312.9 C327.43,313.61 328.17,314.28 328.9,314.4 C329.6,314.52 330.3,314.6 331,314.6 C339.67,314.6 348.33,314.6 357,314.6" stroke="#202020"/></g><rect x="205.5" y="256.5" width="150" height="116" stroke="#b4b4b4" stroke-width="1.3" fill="none"/><text transform="translate(352.3,273.4) scale(1,1.1)" font-size="13.8" text-anchor="end">a = 6.35 Å</text>
<text transform="translate(218.74,386) scale(1,1.05)" font-size="14" text-anchor="middle">-1.4</text>
<text transform="translate(249.62,386) scale(1,1.05)" font-size="14" text-anchor="middle">-0.7</text>
<text transform="translate(280.5,386) scale(1,1.05)" font-size="14" text-anchor="middle">0.0</text>
<text transform="translate(311.38,386) scale(1,1.05)" font-size="14" text-anchor="middle">0.7</text>
<text transform="translate(342.26,386) scale(1,1.05)" font-size="14" text-anchor="middle">1.4</text>
<path d="M368.5,314.5H518.5 M443.5,256.5V372.5" stroke="#b4b4b4" stroke-width="1.2" fill="none"/><path d="M381.74,372.5v-2M381.74,256.5v2M412.62,372.5v-2M412.62,256.5v2M443.5,372.5v-2M443.5,256.5v2M474.38,372.5v-2M474.38,256.5v2M505.26,372.5v-2M505.26,256.5v2M368.5,367.23h2M518.5,367.23h-2M368.5,340.86h2M518.5,340.86h-2M368.5,314.5h2M518.5,314.5h-2M368.5,288.14h2M518.5,288.14h-2M368.5,261.77h2M518.5,261.77h-2" stroke="#777" stroke-width="0.8" fill="none"/><g clip-path="url(#c9)" fill="none" stroke-width="1.45" stroke-linejoin="round"><path d="M367,329.5 C367.33,329.73 367.67,330.01 368,330.2 C368.6,330.53 369.2,331 369.8,331 C370.57,331 371.33,327.33 372.1,326.6 C373.07,325.68 374.03,324.8 375,324.8 C375.97,324.8 376.93,329.5 377.9,329.5 C378.87,329.5 379.83,325.1 380.8,325.1 C381.63,325.1 382.47,326.47 383.3,327.3 C384.27,328.27 385.23,330.7 386.2,330.7 C387.2,330.7 388.2,328.4 389.2,328.4 C390.4,328.4 391.6,333.2 392.8,333.2 C393.87,333.2 394.93,331.3 396,331.3 C396.9,331.3 397.8,331.49 398.7,331.7 C399.57,331.91 400.43,333.2 401.3,333.2 C402.13,333.2 402.97,326.9 403.8,326.9 C404.77,326.9 405.73,332.1 406.7,332.1 C407.67,332.1 408.63,330.91 409.6,330.2 C410.57,329.49 411.53,328.42 412.5,327.8 C413.73,327.01 414.97,326.21 416.2,325.9 C417.17,325.66 418.13,325.66 419.1,325.4 C420.07,325.14 421.03,324.41 422,323.7 C423.23,322.8 424.47,320 425.7,320 C427.13,320 428.57,321.5 430,321.5 C431.23,321.5 432.47,319.78 433.7,319 C434.77,318.33 435.83,317.1 436.9,317.1 C437.87,317.1 438.83,319 439.8,319 C440.87,319 441.93,317.79 443,317.5 C444.47,317.11 445.93,316.93 447.4,316.7 C448.87,316.47 450.33,316.35 451.8,316.1 C453.5,315.81 455.2,314.9 456.9,314.9 C458.6,314.9 460.3,314.9 462,314.9 C463.93,314.9 465.87,314.6 467.8,314.6 C469.27,314.6 470.73,315.33 472.2,315.6 C473.9,315.92 475.6,315.96 477.3,316.4 C478.53,316.72 479.77,317.83 481,318.6 C481.97,319.2 482.93,320.5 483.9,320.5 C484.87,320.5 485.83,320 486.8,320 C487.77,320 488.73,321.86 489.7,322.5 C491.17,323.47 492.63,323.92 494.1,324.8 C495.3,325.52 496.5,327.3 497.7,327.3 C498.43,327.3 499.17,326.9 499.9,326.9 C500.9,326.9 501.9,328.49 502.9,329.5 C504.1,330.71 505.3,331.93 506.5,333.9 C507.23,335.1 507.97,337 508.7,339 C509.43,341 510.17,344.61 510.9,346.3 C511.53,347.76 512.17,349.7 512.8,349.7 C513.63,349.7 514.47,345.9 515.3,345.9 C516.2,345.9 517.1,348.2 518,348.2 C518.67,348.2 519.33,347.73 520,347.5" stroke="#b0343f"/><path d="M380.2,248 C380.4,250.67 380.6,253.61 380.8,256 C381.17,260.39 381.53,263.39 381.9,267.7 C382.23,271.62 382.57,276.8 382.9,280.8 C383.3,285.6 383.7,291.16 384.1,294 C384.47,296.6 384.83,298.7 385.2,299.8 C385.8,301.61 386.4,302.82 387,303.4 C387.57,303.95 388.13,304.5 388.7,304.5 C389.33,304.5 389.97,303.08 390.6,302.4 C391.33,301.61 392.07,300.1 392.8,300.1 C393.53,300.1 394.27,301.3 395,301.3 C395.73,301.3 396.47,299.21 397.2,298.3 C398.27,296.98 399.33,294.7 400.4,294.7 C401.27,294.7 402.13,295.22 403,295.7 C403.9,296.19 404.8,298.3 405.7,298.3 C406.5,298.3 407.3,296.9 408.1,296.9 C409.1,296.9 410.1,296.9 411.1,296.9 C412.07,296.9 413.03,301 414,301 C414.73,301 415.47,299.5 416.2,299.5 C416.93,299.5 417.67,299.8 418.4,299.8 C419.5,299.8 420.6,297.2 421.7,297.2 C422.87,297.2 424.03,303 425.2,303 C426.33,303 427.47,296.1 428.6,296.1 C429.8,296.1 431,296.59 432.2,297.2 C433.43,297.82 434.67,302.7 435.9,302.7 C437.1,302.7 438.3,292.8 439.5,292.8 C440.67,292.8 441.83,293.42 443,294.2 C443.73,294.69 444.47,296.71 445.2,297.6 C445.93,298.49 446.67,299.8 447.4,299.8 C448.27,299.8 449.13,294.7 450,294.7 C450.83,294.7 451.67,301.84 452.5,304.2 C453.47,306.94 454.43,310.7 455.4,310.7 C456.13,310.7 456.87,309.73 457.6,308.6 C458.33,307.47 459.07,302.08 459.8,299.8 C460.53,297.52 461.27,294.2 462,294.2 C462.97,294.2 463.93,300.5 464.9,300.5 C465.77,300.5 466.63,298.66 467.5,297.6 C468.33,296.58 469.17,294.2 470,294.2 C470.63,294.2 471.27,294.2 471.9,294.2 C472.6,294.2 473.3,290.7 474,290.7 C474.77,290.7 475.53,291.3 476.3,291.3 C477.77,291.3 479.23,282.3 480.7,282.3 C481.5,282.3 482.3,286.12 483.1,288.8 C483.93,291.59 484.77,296.22 485.6,299.8 C486.23,302.52 486.87,306.73 487.5,307.8 C488.47,309.43 489.43,309.58 490.4,310.7 C491.13,311.55 491.87,313.28 492.6,313.7 C493.33,314.12 494.07,314.49 494.8,314.5 C503.2,314.59 511.6,314.57 520,314.6" stroke="#202020"/></g><rect x="368.5" y="256.5" width="150" height="116" stroke="#b4b4b4" stroke-width="1.3" fill="none"/><text transform="translate(516,273.4) scale(1,1.1)" font-size="13.8" text-anchor="end">a = 6.45 Å</text>
<text transform="translate(381.74,386) scale(1,1.05)" font-size="14" text-anchor="middle">-1.4</text>
<text transform="translate(412.62,386) scale(1,1.05)" font-size="14" text-anchor="middle">-0.7</text>
<text transform="translate(443.5,386) scale(1,1.05)" font-size="14" text-anchor="middle">0.0</text>
<text transform="translate(474.38,386) scale(1,1.05)" font-size="14" text-anchor="middle">0.7</text>
<text transform="translate(505.26,386) scale(1,1.05)" font-size="14" text-anchor="middle">1.4</text>
<text transform="translate(13.2,186.25) rotate(-90)" font-size="14" text-anchor="middle">DOS (states / eV)</text>
<text x="280.2" y="403.8" font-size="13.8" text-anchor="middle">E - E<tspan font-size="7.8" dy="4.7">F</tspan><tspan dy="-4.7"> (eV)</tspan></text>
</svg></body></html>
